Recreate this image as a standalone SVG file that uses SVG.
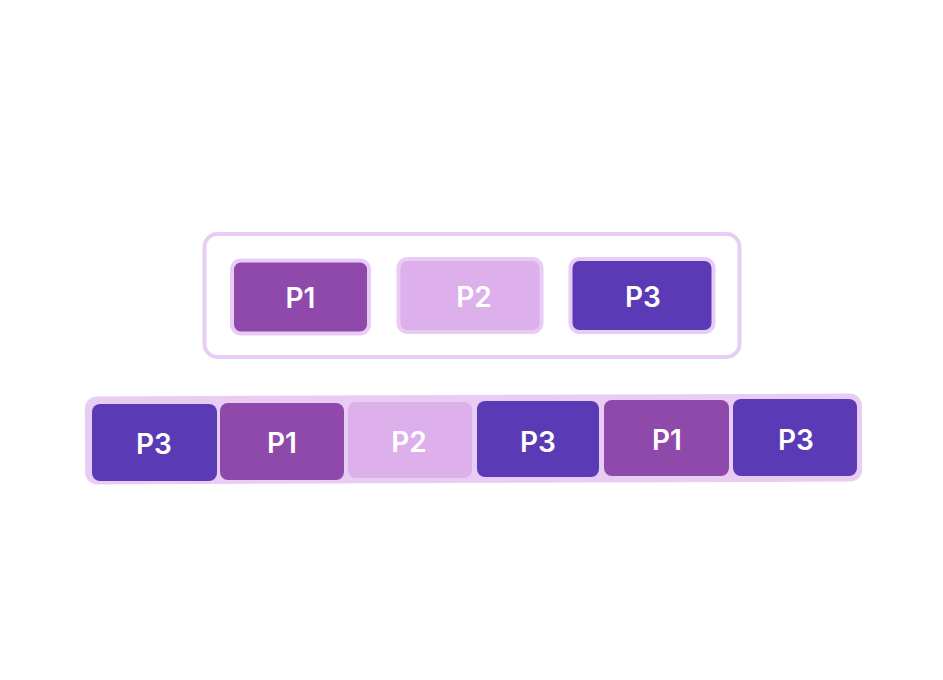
<svg xmlns="http://www.w3.org/2000/svg" width="943" height="680" viewBox="0 0 943 680">
<style>
.lbl{font-family:Inter,"Liberation Sans",sans-serif;font-size:28px;font-weight:600;fill:#ffffff;text-anchor:middle}
.p1{fill:#8E49AA}
.p2{fill:#DDB0EC}
.p3{fill:#5B3AB6}
.top{stroke:#E8CCF4;stroke-width:4}
</style>
<rect width="943" height="680" fill="#ffffff"/>
<g id="container">
<rect x="204.5" y="234" width="535" height="123" rx="13" fill="#ffffff" stroke="#E8CCF4" stroke-width="4"/>
</g>
<g id="top-p1">
<rect class="p1 top" x="232" y="260.5" width="137" height="73" rx="9"/>
<text class="lbl" x="300.5" y="308">P1</text>
</g>
<g id="top-p2">
<rect class="p2 top" x="398.5" y="259" width="143" height="73" rx="9"/>
<text class="lbl" x="474" y="307">P2</text>
</g>
<g id="top-p3">
<rect class="p3 top" x="570.5" y="259" width="143" height="73" rx="9"/>
<text class="lbl" x="643" y="307">P3</text>
</g>
<g id="bar">
<rect x="85" y="395" width="777" height="88" rx="12" fill="#E8CCF4" transform="rotate(-0.22 473 439)"/>
</g>
<g id="b1">
<rect class="p3" x="92" y="404" width="125" height="77" rx="8"/>
<text class="lbl" x="154" y="454">P3</text>
</g>
<g id="b2">
<rect class="p1" x="220" y="403" width="124" height="77" rx="8"/>
<text class="lbl" x="282" y="453">P1</text>
</g>
<g id="b3">
<rect class="p2" x="348" y="402" width="124" height="76" rx="8"/>
<text class="lbl" x="409" y="452">P2</text>
</g>
<g id="b4">
<rect class="p3" x="477" y="401" width="122" height="76" rx="8"/>
<text class="lbl" x="538" y="452">P3</text>
</g>
<g id="b5">
<rect class="p1" x="604" y="400" width="125" height="76" rx="8"/>
<text class="lbl" x="667" y="450">P1</text>
</g>
<g id="b6">
<rect class="p3" x="733" y="399" width="124" height="77" rx="8"/>
<text class="lbl" x="796" y="450">P3</text>
</g>
<g id="connectors"></g>
</svg>
